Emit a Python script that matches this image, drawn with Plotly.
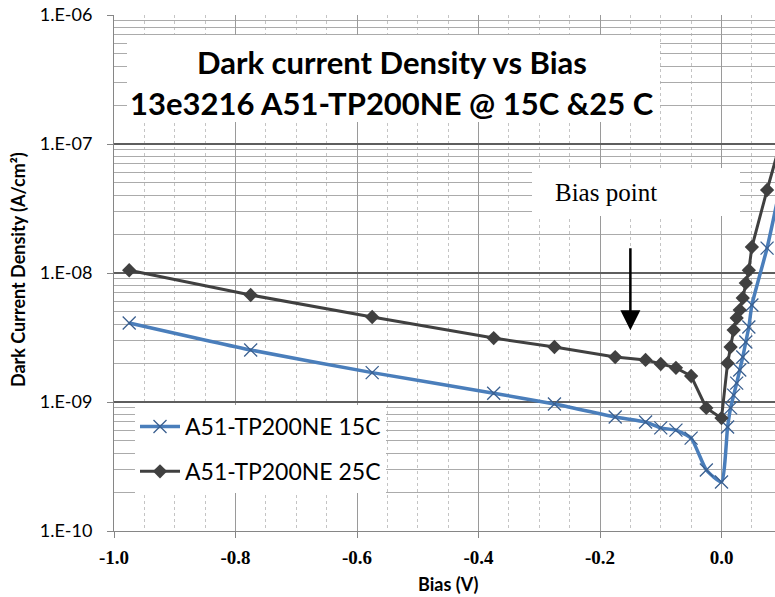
import plotly.graph_objects as go
import numpy as np

# ---- data ----
bias_v = [-0.975, -0.775, -0.575, -0.375, -0.275, -0.175, -0.125, -0.1, -0.075, -0.05, -0.025, 0.0,
          0.01, 0.015, 0.02, 0.025, 0.03, 0.035, 0.04, 0.045, 0.05, 0.075, 0.1]
j_15c = [4.1e-9, 2.53e-9, 1.69e-9, 1.17e-9, 9.65e-10, 7.65e-10, 7.0e-10, 6.3e-10, 6.05e-10, 5.25e-10, 2.97e-10, 2.4e-10,
         6.4e-10, 9.0e-10, 1.13e-9, 1.4e-9, 1.77e-9, 2.23e-9, 2.92e-9, 3.81e-9, 5.65e-9, 1.56e-8, 5.5e-8]
j_25c = [1.05e-8, 6.75e-9, 4.56e-9, 3.13e-9, 2.67e-9, 2.23e-9, 2.12e-9, 1.97e-9, 1.84e-9, 1.59e-9, 9.0e-10, 7.5e-10,
         2.0e-9, 2.67e-9, 3.61e-9, 4.48e-9, 5.16e-9, 6.4e-9, 8.36e-9, 1.05e-8, 1.59e-8, 4.4e-8, 1.15e-7]
series_names = ["A51-TP200NE 15C", "A51-TP200NE 25C"]

x_tickvals = [-1.0, -0.8, -0.6, -0.4, -0.2, 0.0]
x_ticktext = ["-1.0", "-0.8", "-0.6", "-0.4", "-0.2", "0.0"]
y_tickvals = [1e-10, 1e-9, 1e-8, 1e-7, 1e-6]
y_ticktext = ["1.E-10", "1.E-09", "1.E-08", "1.E-07", "1.E-06"]
y_minor = [m * 10.0 ** e for e in range(-10, -6) for m in range(2, 10)]

title_lines = ["Dark current Density vs Bias", "13e3216 A51-TP200NE @ 15C &25 C"]
bias_point_x = -0.15
bias_point_tip = 3.6e-9
bias_point_tail = 1.6e-8

W, H = 775, 597
ML, MR, MT, MB = 114, 0, 15, 66
PW, PH = W - ML - MR, H - MT - MB

def px_to_paper_x(px):
    return (px - ML) / PW

def py_to_paper_y(py):
    return (H - MB - py) / PH

fig = go.Figure()
fig.add_trace(go.Scatter(
    x=bias_v, y=j_15c, name=series_names[0], mode="lines+markers", legendgroup="a",
    line=dict(color="#4A7EBB", width=3.5, shape="spline", smoothing=0.5),
    marker=dict(symbol="x-thin", size=13, color="#3A5F8F", line=dict(width=1.3, color="#3A5F8F")),
))
fig.add_trace(go.Scatter(
    x=bias_v, y=j_25c, name=series_names[1], mode="lines+markers", legendgroup="b",
    line=dict(color="#404040", width=3),
    marker=dict(symbol="diamond", size=11, color="#404040"),
))

fig.update_xaxes(
    range=[-1.0, -1.0 + (775 - ML) / 607.5],
    tickmode="array", tickvals=x_tickvals, ticktext=x_ticktext,
    ticks="outside", ticklen=6, tickcolor="#868686",
    showline=True, linecolor="#868686", linewidth=1,
    showgrid=True, gridcolor="#9A9A9A", gridwidth=1,
    zeroline=False,
    tickfont=dict(family="Liberation Serif", size=19, color="#000", weight="bold"),
    ticklabelstandoff=3,
    minor=dict(tickmode="linear", tick0=0, dtick=0.05, showgrid=True,
               gridcolor="#C4C4C4", griddash="dot", gridwidth=1, ticks=""),
)
fig.update_yaxes(
    type="log", range=[-10, -6],
    tickmode="array", tickvals=y_tickvals, ticktext=y_ticktext,
    ticks="outside", ticklen=6, tickcolor="#868686",
    showline=True, linecolor="#868686", linewidth=1,
    showgrid=True, gridcolor="#5E5E5E", gridwidth=1.5,
    zeroline=False,
    tickfont=dict(family="Lato", size=18, color="#000"),
    ticklabelstandoff=11,
    minor=dict(tickmode="array", tickvals=y_minor, showgrid=True,
               gridcolor="#ABABAB", gridwidth=1, ticks=""),
)

shapes = [
    # title backdrop
    dict(type="rect", xref="paper", yref="paper", layer="above",
         x0=px_to_paper_x(127), x1=px_to_paper_x(660), y0=py_to_paper_y(122), y1=py_to_paper_y(35),
         fillcolor="white", line=dict(width=0)),
    # bias point backdrop
    dict(type="rect", xref="paper", yref="paper", layer="above",
         x0=px_to_paper_x(532), x1=px_to_paper_x(740), y0=py_to_paper_y(216), y1=py_to_paper_y(168),
         fillcolor="white", line=dict(width=0)),
]
fig.update_layout(shapes=shapes)

annotations = [
    dict(text=title_lines[0], xref="paper", yref="paper", x=px_to_paper_x(392), y=py_to_paper_y(62),
         showarrow=False, font=dict(family="Lato", size=31, color="#000", weight="bold"),
         xanchor="center", yanchor="middle"),
    dict(text=title_lines[1], xref="paper", yref="paper", x=px_to_paper_x(392), y=py_to_paper_y(103),
         showarrow=False, font=dict(family="Lato", size=31, color="#000", weight="bold"),
         xanchor="center", yanchor="middle"),
    dict(text="Bias point", xref="paper", yref="paper", x=px_to_paper_x(553), y=py_to_paper_y(193),
         showarrow=False, font=dict(family="Liberation Serif", size=25, color="#000"),
         xanchor="left", yanchor="middle"),
    dict(text="", xref="x", yref="y", x=bias_point_x, y=np.log10(bias_point_tip),
         axref="x", ayref="y", ax=bias_point_x, ay=np.log10(bias_point_tail),
         showarrow=True, arrowhead=2, arrowsize=1.6, arrowwidth=2.5, arrowcolor="#000"),
    dict(text="Bias (V)", xref="paper", yref="paper", x=px_to_paper_x(448), y=py_to_paper_y(584),
         showarrow=False, font=dict(family="Lato", size=18, color="#000", weight="bold"),
         xanchor="center", yanchor="middle"),
    dict(text="Dark Current Density (A/cm²)", xref="paper", yref="paper", x=px_to_paper_x(18),
         y=py_to_paper_y(270), textangle=-90,
         showarrow=False, font=dict(family="Lato", size=18, color="#000", weight="bold"),
         xanchor="center", yanchor="middle"),
]
fig.update_layout(annotations=annotations)

fig.update_layout(
    width=W, height=H,
    margin=dict(l=ML, r=MR, t=MT, b=MB, autoexpand=False),
    paper_bgcolor="white", plot_bgcolor="white",
    showlegend=True,
    legend=dict(x=px_to_paper_x(135), y=py_to_paper_y(405), xanchor="left", yanchor="top",
                bgcolor="white", borderwidth=0, tracegroupgap=12, itemwidth=40,
                font=dict(family="Lato", size=23, color="#000")),
)

fig.write_html("out.html")
